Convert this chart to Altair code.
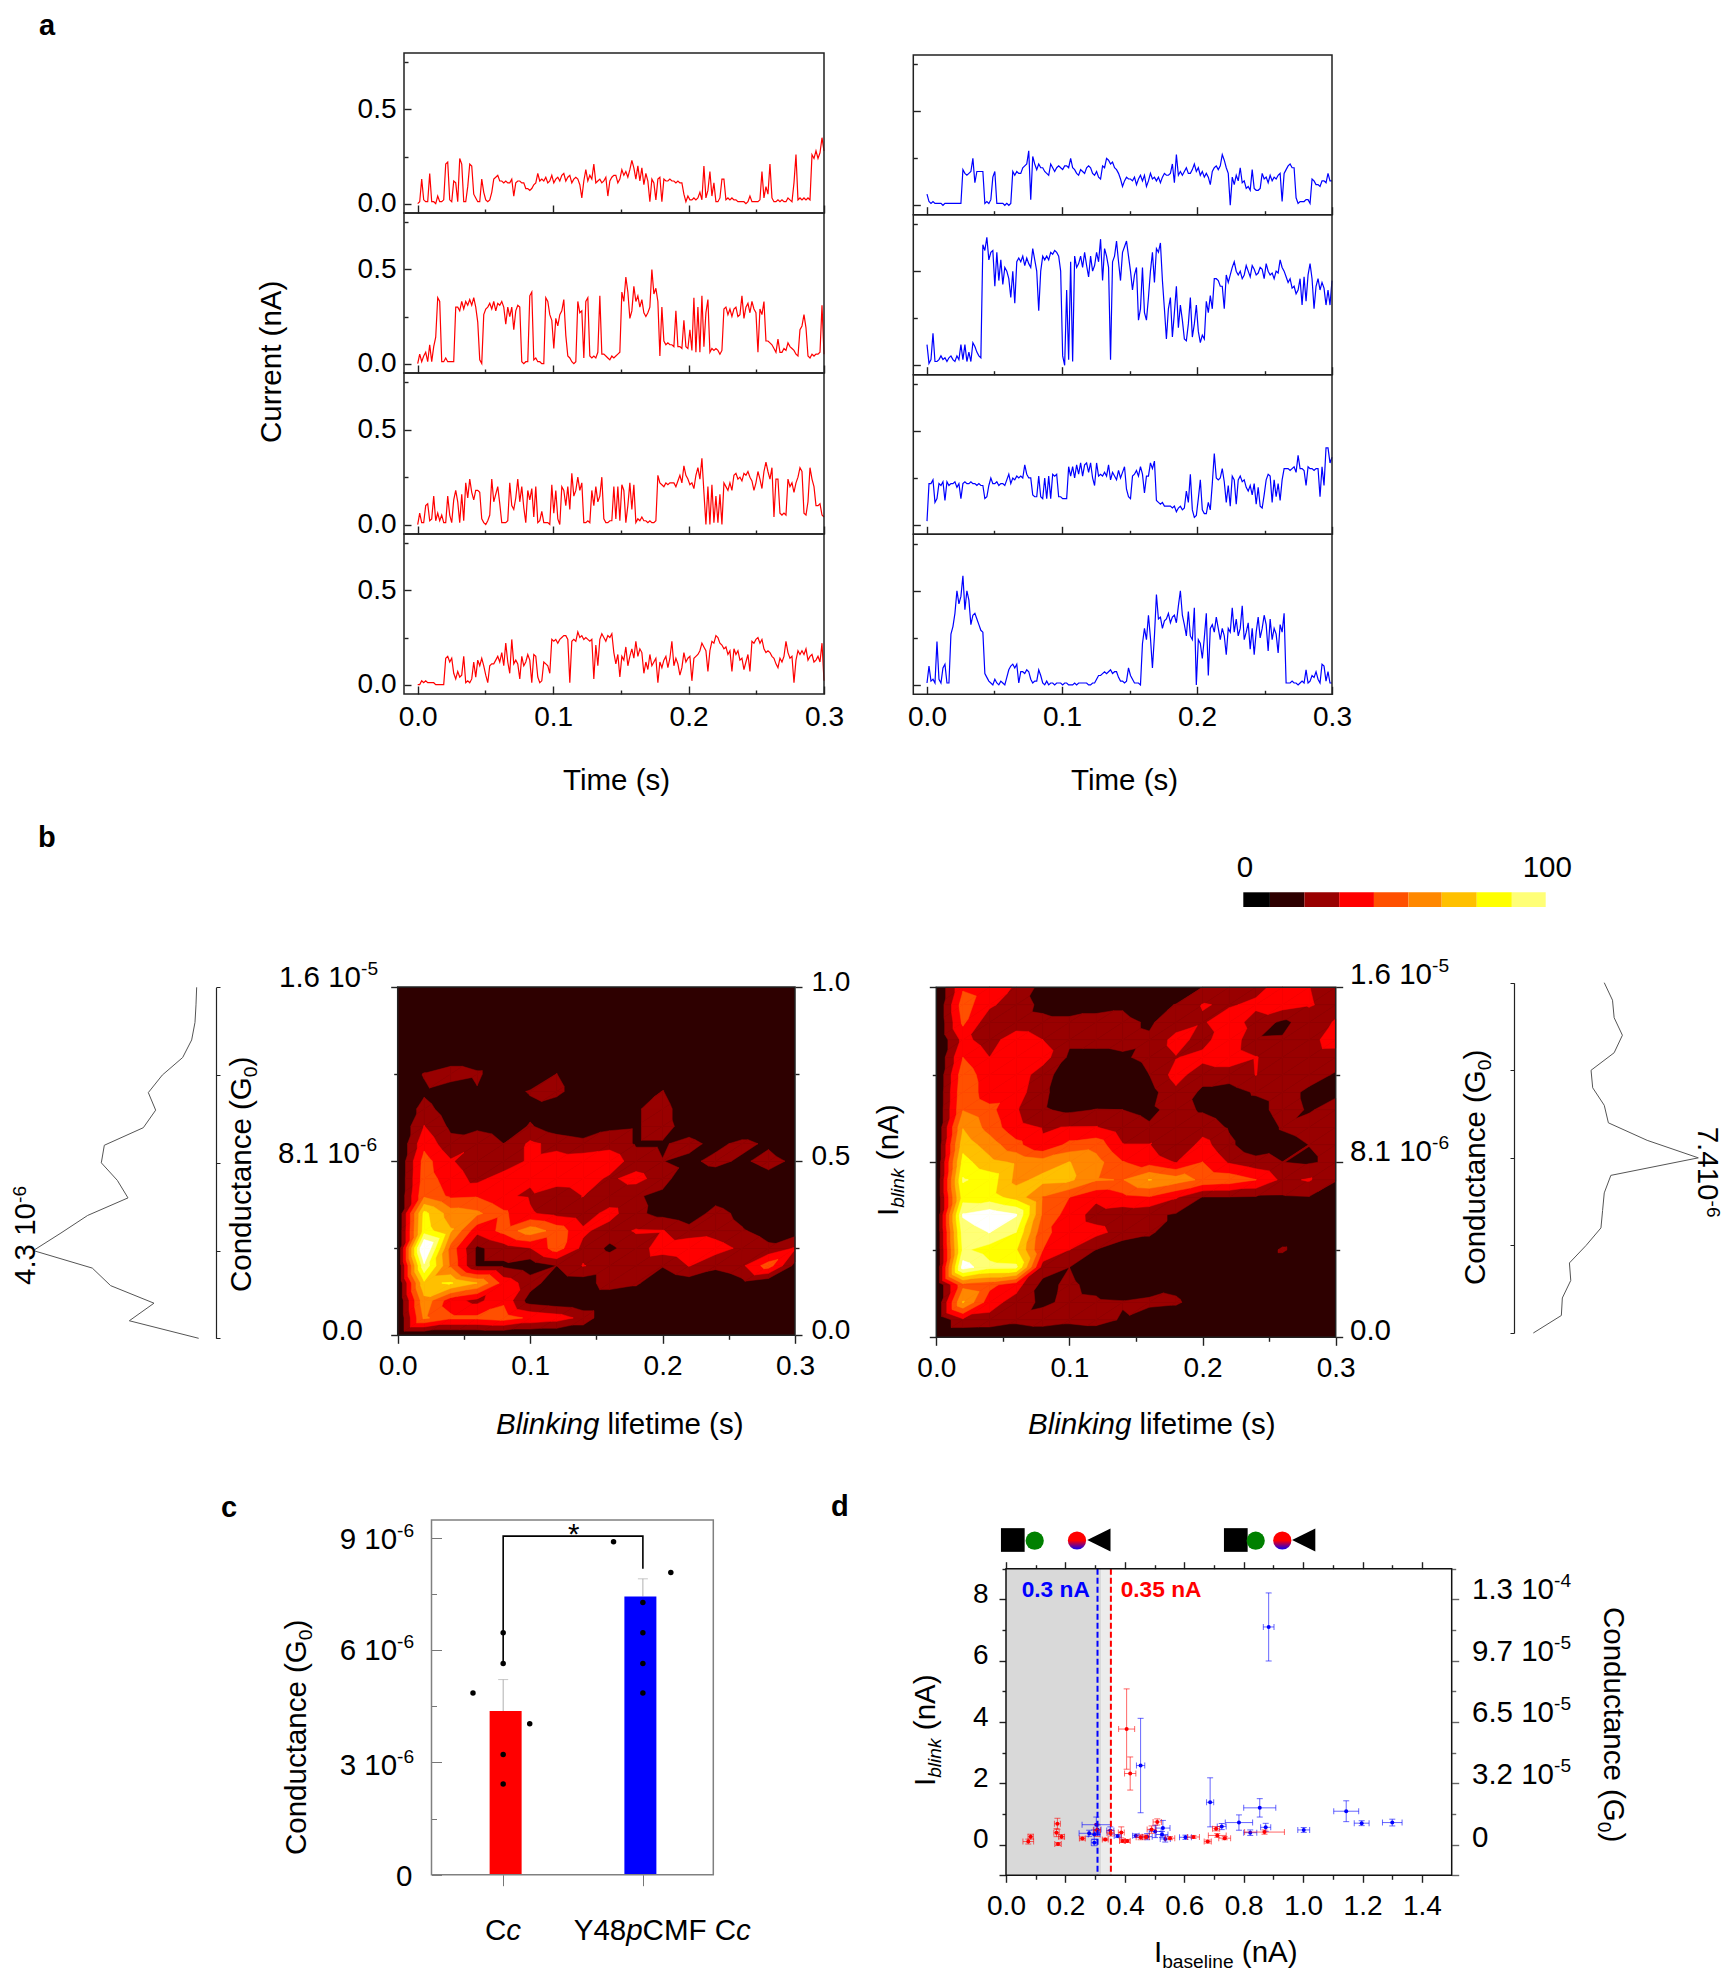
import altair as alt
import numpy as np
import pandas as pd

alt.data_transformers.disable_max_rows()
W, H = 1714, 1965
M0 = 8  # page margin: all layout numbers below are page coordinates
FONT = "Liberation Sans"
TICK = 28
RT = 29.5
TITLE = 29.5

# ---------------- panel a: current traces, unit 0.01 nA ----------------
L1 = [0,1,13,2,1,1,16,1,1,0, 4,1,1,2,21,22,2,1,12,11,
      1,24,21,1,1,9,21,20,5,3, 1,1,13,6,2,1,2,6,13,14,
      15,12,12,11,12,11,11,13,4,11, 12,12,11,11,8,8,7,8,10,11,
      16,12,13,12,14,11,12,15,11,13, 14,12,15,16,12,14,15,11,13,14,
      13,10,3,12,18,12,15,13,21,11, 12,13,11,12,14,4,12,14,15,15,
      11,13,18,15,17,14,18,23,19,13, 20,12,19,10,16,12,1,13,11,2,
      13,14,1,13,12,12,13,12,12,11, 12,11,11,5,1,4,2,2,3,2,
      3,6,2,20,3,7,17,4,11,1, 1,3,13,13,2,3,2,3,2,2,
      1,1,1,1,0,1,4,1,1,1, 1,2,17,3,9,5,21,3,1,1,
      2,1,2,1,1,3,2,1,11,26, 2,3,2,3,2,3,2,26,24,28,
      24,27,35,28]
L2 = [0,5,1,4,6,1,10,1,9,14, 35,33,1,1,3,1,1,1,1,30,
      30,28,33,29,33,31,34,31,35,30, 22,2,0,26,29,30,32,29,33,28,
      32,31,33,30,21,30,25,30,18,28, 31,30,1,0,1,1,36,38,2,3,
      1,1,0,0,35,33,26,23,8,24, 20,26,28,34,15,4,3,1,0,1,
      33,27,28,3,33,35,4,3,4,3, 6,36,5,5,4,3,2,4,3,4,
      5,6,38,33,46,38,24,28,41,33, 36,30,34,27,25,27,30,50,37,40,
      33,4,30,12,10,11,10,10,9,28, 9,9,8,23,9,8,18,7,35,6,
      30,6,36,9,27,34,6,8,7,8, 7,5,7,29,30,26,29,25,29,30,
      25,26,36,24,30,32,27,33,29,27, 6,29,26,33,12,12,11,10,8,6,
      13,6,6,8,7,11,9,8,7,5, 4,18,20,26,19,4,3,5,4,5,
      5,6,31,5]
L3 = [0,6,1,1,10,11,2,3,15,2, 6,2,5,1,1,15,5,1,13,18,
      12,1,16,2,22,14,24,17,13,18, 18,17,3,1,0,2,5,24,12,16,
      20,11,1,1,1,2,22,10,8,14, 24,12,20,9,1,18,13,19,4,20,
      1,2,7,1,1,1,0,21,6,18, 3,0,20,18,10,20,8,27,15,18,
      25,18,22,1,1,2,1,18,10,20, 12,15,25,3,1,1,2,2,20,3,
      20,2,21,18,1,10,22,8,21,1, 3,2,4,2,2,1,2,1,1,2,
      26,22,21,20,22,21,22,22,22,20, 23,26,22,31,26,24,21,22,19,26,
      30,24,35,17,0,20,0,21,1,15, 1,16,0,22,20,18,22,18,26,27,
      24,25,23,27,26,28,25,23,18,22, 28,24,19,28,33,28,24,30,4,24,
      24,6,5,6,5,24,20,22,17,22, 25,30,28,6,5,12,30,24,20,10,
      10,11,5,4]
L4 = [0,0,2,1,2,1,1,1,1,0, 0,0,0,0,14,15,12,14,6,3,
      7,4,5,15,1,2,1,3,12,4, 13,10,14,10,5,1,10,11,11,13,
      15,12,17,10,22,12,6,24,11,13, 11,3,15,10,12,16,13,1,16,15,
      4,1,2,12,11,10,6,24,23,24, 22,24,25,26,26,24,1,23,24,23,
      28,25,26,24,25,24,23,24,3,21, 10,24,27,25,23,26,25,27,17,11,
      16,4,15,13,20,10,15,19,14,23, 15,19,17,6,12,8,16,10,12,14,
      1,12,9,13,15,9,14,23,10,14, 11,5,9,17,12,14,15,2,14,15,
      16,18,22,20,18,7,18,23,22,26, 25,22,21,19,20,16,18,7,19,16,
      18,13,14,8,12,16,7,23,22,24, 25,22,24,19,17,18,17,15,14,11,
      9,14,12,15,23,17,14,15,1,13, 18,16,18,16,19,13,15,16,12,13,
      15,12,22,2]
R1 = [6,2,1,2,1,1,1,1,0,1, 1,1,1,1,1,1,1,1,19,17,
      16,17,18,25,12,18,18,18,18,1, 2,1,3,15,18,1,1,1,1,0,
      1,0,1,18,16,18,17,17,20,21, 22,29,3,26,22,19,22,20,20,18,
      17,16,22,20,18,20,21,20,19,21, 21,20,25,20,19,17,16,19,18,17,
      20,21,20,17,16,18,15,14,21,20, 25,24,22,23,20,19,17,14,10,13,
      15,14,14,13,15,11,14,16,13,16, 10,13,17,14,15,13,15,12,15,17,
      16,16,17,22,12,27,16,18,16,18, 20,17,17,19,22,18,20,16,18,15,
      17,15,11,18,20,21,19,21,27,24, 20,17,0,15,11,16,13,20,12,13,
      9,10,8,19,9,8,8,9,17,14, 15,12,16,13,15,14,16,17,2,17,
      19,21,22,20,20,4,1,2,2,2, 3,3,1,14,13,11,11,10,13,13,
      12,17,13,13]
R2 = [11,1,3,17,2,2,3,5,3,4, 2,4,5,3,2,5,3,11,3,11,
      2,7,2,12,10,7,5,4,64,61, 68,56,60,61,42,60,45,56,43,52,
      50,46,36,50,33,55,57,55,58,53, 57,54,52,62,56,50,29,50,58,56,
      58,56,60,59,61,60,58,50,5,0, 40,3,55,2,58,52,54,58,52,60,
      53,47,58,50,53,60,55,67,45,62, 58,52,3,55,58,66,55,45,60,63,
      66,58,50,40,48,52,24,30,52,28, 24,36,50,60,44,62,60,65,45,30,
      14,30,36,15,28,42,20,32,24,14, 13,22,36,15,22,32,18,12,16,14,
      34,28,37,30,46,46,45,42,42,30, 48,44,48,52,55,50,48,50,46,48,
      53,50,47,53,51,48,49,52,51,46, 54,50,48,49,46,50,49,56,52,50,
      47,44,46,41,42,38,40,46,32,47, 34,48,54,46,30,42,46,40,44,41,
      32,40,32,45]
R3 = [2,22,22,24,12,14,22,21,23,13, 23,21,22,22,23,20,22,14,22,23,
      22,22,23,22,22,21,22,21,21,14, 15,21,25,22,22,23,21,22,22,21,
      24,27,22,25,24,26,25,26,25,32, 27,25,25,16,15,15,26,15,14,25,
      14,26,14,27,26,27,15,15,14,14, 14,31,26,31,25,32,27,33,26,32,
      33,28,33,25,21,33,26,27,26,28, 26,32,24,28,26,24,29,25,28,31,
      19,15,14,26,27,29,26,31,27,17, 26,26,33,30,34,13,12,11,12,10,
      10,10,10,9,10,7,9,10,8,9, 18,12,27,8,4,5,14,24,8,6,
      6,12,8,22,38,25,24,25,30,23, 12,21,10,26,24,11,24,26,23,24,
      20,18,21,16,22,11,20,10,9,16, 24,27,26,12,24,15,22,13,24,30,
      30,30,29,30,31,28,37,30,30,29, 21,31,30,30,29,30,30,15,31,21,
      41,41,33,36]
R4 = [1,10,2,3,1,23,3,1,9,11, 1,1,27,31,38,50,43,47,58,40,
      50,45,32,37,38,35,32,29,28,6, 4,2,1,0,3,1,0,2,1,0,
      4,8,10,11,9,11,1,7,7,6, 8,7,3,1,2,2,8,5,1,0,
      2,0,1,1,0,1,1,1,0,1, 1,0,0,0,1,0,1,1,1,1,
      1,0,0,1,1,3,5,5,6,7, 6,7,8,6,7,7,4,2,2,1,
      2,9,5,3,1,1,1,0,22,30, 24,37,25,9,26,48,35,36,30,34,
      35,38,33,36,37,33,42,50,37,32, 26,39,26,24,41,0,24,22,14,25,
      38,5,30,32,28,36,30,24,30,26, 16,30,28,41,28,35,26,30,42,24,
      28,33,19,30,16,28,36,25,30,37, 32,18,35,24,30,27,17,32,28,38,
      1,1,1,2,1,1,0,1,2,1, 8,1,2,5,4,7,3,1,11,10,
      2,7,1,1]

# ---------------- panel b: contour matrices, rows from I=1.0 down to I=0 ----------------
def pad(r):
    return r + [0] * (16 - len(r))

CL = [pad(r) for r in [
 [0],[0],[0],[0],
 [0,0,0],
 [0,10.8,18,12.4,0,0,10.2],
 [0,8,0,8.8,5,11,14,0,0,0,10.5],
 [0,14,4,0,0,7,1,0,0,9,14,3],
 [0,20.3,8,7,3,11,4,1,8,9,14,5,0,0,0,0],
 [0,27,13,19,10,22,17,14,16,9,9,13,7,13,8,0],
 [0,34,21,14,13,22,24,25,27,14,10.2,7.5,13,8,14,7.5],
 [0,35,25,17,25,21,25,26,18,24,14,2,4,0,6,0],
 [0,38,28,29,21,19,14,20.2,12,11,7.5,3,5,0,0,0],
 [0,63,45,42,32,21,17,14,24,12,7,3,14,7,0,0],
 [0,65,51,23,33,46,36,22,15,21,20.5,14,16,11,6,4.6],
 [0,95,36,8,15,19.6,35,17,8,15,25,28,24,18,12,21],
 [0,78,38,8,8,4,10,20.5,16,14,11,20.5,13,18,35,6.7],
 [0,58,61,50,26,15,3,4,16,12,0,4,0,7,1,0],
 [0,47,24,17,28,5,2,0],
 [0,42,32,32,35,28,25,17,0],
 [0],
]]
CR = [pad(r) for r in [
 [0,28.6,25,19,6,0,0,0,0,0,10,15,17,24,20.2,15],
 [0,35,22,14,8,6,8,9,5,10.5,20.5,19,22,25,21,16],
 [0,32,13,13,12,12,12,12,9,14,19,25,16,8,14,21],
 [0,23,15,27,20,12,12,12,11,24,16,28,10.5,10.7,16.5,25],
 [0,30,20,28,25,8,8,9,12,19.5,23,27,20.5,15,15,14.6],
 [0,36,24,27,14,4,4,5,10,24,14,14,20.2,15,14,9],
 [0,38,24,25,12,4,4,4,6,17.5,8,6,11,14,8,8],
 [0,39.5,33,21,11,8,10.3,10,8,13,9,5,6,14,9,14],
 [0,49.5,36,23,19.4,20.3,20.5,14,11,15,15,9,3,11,14,15],
 [0,56,45,33,21,33,36,20.5,20.5,9.8,24,12,3,6,10.1,12],
 [0,64,53,48.6,45,50.3,44,30.5,26,19.5,30.2,19,14,10.1,9,12],
 [0,71,66,47,53,52,41,39.5,50.5,45,38,36,30.2,17.5,21,11],
 [0,65,64,56,39,30,22,27,29,21,9.5,9.5,9,8.8,9.5,0],
 [0,81,87,81,38,25.6,16,14,12,9,3,0],
 [0,75,80.3,70,32,26,23,16,12,3,0],
 [0,72,65,61,30,20,9.8,3,3,0,0,0,0,12,0,0],
 [0,85,73,72,15,10,3],
 [0,37,33,24,7,12,6.5,0,0,6.5,0],
 [0,51,24,16,7.5,13,12,11,14,12,3],
 [0,18,17,13,16,13,15,8.6,0],
 [0],
]]
LEVELS = [10, 20, 30, 40, 50, 60, 70, 80]
BAND = ["#990000", "#ff0000", "#ff5000", "#ff8800", "#ffc000", "#ffff00", "#ffff77", "#ffffff"]
BG = "#2e0000"

# side profiles, from G=0 upward
PROF_L = [0.8,42.4,27.6,53.6,64.6,100,83.4,67.4,43.2,49.6,59.2,57.4,34,26.6,31,22.6,10.4,5,3,2.4,2]
PROF_R = [0,17,17.6,22.7,21.9,32,41,42,43,47,100,69,45.5,43,36,35,49,54,49,48,43]

# colour bar
CB_EDGES = [0,8.8,20.2,31.7,43.2,54.6,65.6,77.2,88.8,100]
CB_COLORS = ["#000000",BG,"#990000","#ff0000","#ff5000","#ff8800","#ffc000","#ffff00","#ffff77"]

# ---------------- panel c ----------------
C_POS = [1, 2]
C_MEAN = [4.37, 7.43]
C_ERR = [5.21, 7.9]
C_COL = ["#ff0000", "#0000ff"]
C_DX = [1,1,0.784,1.19,1,1, 1.79,2.2,2,2,2,2]
C_DY = [6.46,5.64,4.85,4.03,3.21,2.42, 8.89,8.07,7.27,6.46,5.64,4.85]
BR_X = [1,1,2,2]
BR_Y = [5.64,9.04,9.04,8.17]

# ---------------- panel d: x, y, ex, ey ----------------
D_BLUE = [(.884,7.10,.018,1.11),(.453,2.58,.014,1.54),(.687,1.38,.012,.8),(.854,1.20,.054,.30),
 (1.145,1.09,.042,.34),(1.197,.70,.025,.08),(1.30,.72,.033,.11),(1.002,.48,.02,.08),(.874,.565,.017,.13),
 (.822,.39,.022,.09),(.784,.72,.046,.25),(.726,.59,.015,.1),(.604,.24,.02,.07),(.536,.185,.017,.1),
 (.525,.33,.02,.1),(.528,.54,.024,.25),(.502,.43,.02,.2),(.475,.26,.017,.1),(.437,.29,.011,.06),
 (.376,.28,.012,.05),(.351,.46,.012,.12),(.304,.65,.048,.25),(.28,.37,.034,.1),(.297,.33,.02,.15),
 (.297,.065,.01,.1),(.308,.49,.012,.15)]
D_RED = [(.406,3.77,.027,1.31),(.418,2.32,.019,.54),(.509,.74,.014,.1),(.49,.49,.015,.12),(.388,.40,.01,.18),
 (.173,.68,.01,.18),(.17,.39,.009,.13),(.187,.26,.01,.07),(.175,.02,.011,.05),(.083,.26,.009,.08),
 (.075,.1,.018,.08),(.257,.2,.01,.05),(.306,.47,.012,.2),(.334,.17,.01,.04),(.352,.38,.012,.1),
 (.392,.12,.01,.05),(.408,.12,.01,.05),(.453,.24,.015,.08),(.471,.25,.012,.06),(.552,.21,.016,.05),
 (.631,.25,.02,.05),(.679,.1,.012,.05),(.711,.30,.03,.06),(.707,.52,.012,.07),(.736,.21,.02,.05),(.87,.41,.067,.07)]

# ---------------- helpers ----------------
dummy = pd.DataFrame({"x": [0.0], "y": [0.0]})
layers = []

def V(v):
    return alt.value(v - M0)

def S(dom, rng):
    return alt.Scale(domain=dom, range=[r - M0 for r in rng], nice=False, zero=False)

def ax(xs, ys, xa=None, ya=None):
    layers.append(alt.Chart(dummy).mark_point(opacity=0).encode(
        x=alt.X("x:Q", scale=xs, axis=xa), y=alt.Y("y:Q", scale=ys, axis=ya)))

def A(orient, pos, values, size=0, labels=False, **kw):
    p = pos - M0
    off = {"left": -p, "top": -p, "right": p - W, "bottom": p - H}[orient]
    opts = dict(orient=orient, offset=off, values=values, tickSize=size, labels=labels, ticks=size > 0,
                domain=False, grid=False, title=None, tickColor="#222222", tickWidth=1.4)
    if labels:
        opts.update(labelFont=FONT, labelFontSize=TICK, labelColor="#000000", labelOverlap=False,
                    labelFlush=False, labelBound=False)
    opts.update(kw)
    return alt.Axis(**opts)

def frame(xs, ys, xd, yd, color="#222222", sw=1.5):
    d = pd.DataFrame({"a": [xd[0]], "b": [xd[1]], "c": [yd[0]], "d": [yd[1]]})
    layers.append(alt.Chart(d).mark_rect(fillOpacity=0, stroke=color, strokeWidth=sw).encode(
        x=alt.X("a:Q", scale=xs, axis=None), x2="b:Q",
        y=alt.Y("c:Q", scale=ys, axis=None), y2="d:Q"))

WID = {' ':.278,'.':.278,'-':.333,'(':.333,')':.333,'*':.389,'0':.556,'1':.556,'2':.556,'3':.556,'4':.556,'5':.556,
 '6':.556,'7':.556,'8':.556,'9':.556,'A':.667,'B':.667,'C':.722,'F':.611,'G':.778,'I':.278,'M':.833,'T':.611,'Y':.667,
 'a':.556,'b':.556,'c':.5,'d':.556,'e':.556,'f':.278,'g':.556,'i':.222,'k':.5,'l':.222,'m':.833,'n':.556,'o':.556,
 'p':.556,'r':.333,'s':.5,'t':.278,'u':.556}
texts = []

def rich(x, y, parts, size, angle=0, color="#000000", style="normal"):
    """parts: (text, style, relative size, rise in em)"""
    if isinstance(parts, str):
        parts = [(parts, style, 1, 0)]
    adv = {0: (1, 0), 270: (0, -1), 90: (0, 1)}[angle]
    up = {0: (0, -1), 270: (-1, 0), 90: (1, 0)}[angle]
    for t, st, k, rise in parts:
        s = size * k
        lead = len(t) - len(t.lstrip(" "))
        if lead:
            x += adv[0] * lead * WID[" "] * s
            y += adv[1] * lead * WID[" "] * s
            t = t.lstrip(" ")
        texts.append(dict(t=t, px=x + up[0] * rise * size - M0, py=y + up[1] * rise * size - M0, s=s, a=angle, st=st, c=color))
        w = sum(WID.get(ch, .556) for ch in t) * s
        x += adv[0] * w
        y += adv[1] * w

N, I_ = "normal", "italic"
def G0(): return [("Conductance (G", N, 1, 0), ("0", N, .65, -.2), (")", N, 1, 0)]
def P10(a, e, rise=.4): return [(a + " 10", N, 1, 0), (e, N, .65, rise)]

# ---------------- panel a ----------------
def trace_panel(vals, color, x0, x1, ytop, ybot, xtick0, labels_y, labels_x):
    t = np.arange(len(vals)) * 0.3 / (len(vals) - 1)
    df = pd.DataFrame({"t": t, "v": np.array(vals) / 100})
    xdom = [(x0 - xtick0) / (x1 - xtick0) * 0.3, 0.3]
    ydom = [-0.05, 0.8]
    xs, ys = S(xdom, [x0, x1]), S(ydom, [ybot, ytop])
    layers.append(alt.Chart(df).mark_line(color=color, strokeWidth=1.2).encode(
        x=alt.X("t:Q", scale=xs, axis=None), y=alt.Y("v:Q", scale=ys, axis=None)))
    ax(xs, ys, A("top", ybot, [0, .1, .2, .3], 8), A("right", x0, [0, .5], 7))
    ax(xs, ys, A("top", ybot, [.05, .15, .25], 4), A("right", x0, [.25, .75], 4))
    if labels_y or labels_x:
        ax(xs, ys,
           A("bottom", ybot, [0, .1, .2, .3], 0, True, format=".1f", labelPadding=9) if labels_x else None,
           A("left", x0, [0, .5], 0, True, format=".1f", labelPadding=8) if labels_y else None)
    frame(xs, ys, xdom, ydom)

rows_l = [(53, 213), (213, 373), (373, 534), (534, 694)]
rows_r = [(55, 214.7), (214.7, 374.7), (374.7, 534.3), (534.3, 694.3)]
for k, v in enumerate([L1, L2, L3, L4]):
    trace_panel(v, "#ff0000", 404, 824, rows_l[k][0], rows_l[k][1], 417.7, True, k == 3)
for k, v in enumerate([R1, R2, R3, R4]):
    trace_panel(v, "#0000ff", 913.3, 1332, rows_r[k][0], rows_r[k][1], 927, False, k == 3)
rich(280.5, 443, "Current (nA)", TITLE, 270)
rich(563, 790, "Time (s)", TITLE)
rich(1071, 790, "Time (s)", TITLE)

# ---------------- panel b ----------------
def clip(tri, L):
    out = []
    for i in range(3):
        a, b = tri[i], tri[(i + 1) % 3]
        if a[2] >= L:
            out.append(a[:2])
        if (a[2] >= L) != (b[2] >= L):
            f = (L - a[2]) / (b[2] - a[2])
            out.append((a[0] + f * (b[0] - a[0]), a[1] + f * (b[1] - a[1])))
    return out

def contour(M, xr, yr):
    xs, ys = S([0, .3], xr), S([0, 1], yr)
    d = pd.DataFrame({"a": [0], "b": [.3], "c": [0], "d": [1]})
    layers.append(alt.Chart(d).mark_rect(color=BG).encode(
        x=alt.X("a:Q", scale=xs, axis=None), x2="b:Q", y=alt.Y("c:Q", scale=ys, axis=None), y2="d:Q"))
    M = np.array(M, float)[::-1]
    for L, col in zip(LEVELS, BAND):
        rows, pid = [], 0
        for r in range(20):
            for c in range(15):
                p = [(c * .02, r * .05, M[r, c]), ((c + 1) * .02, r * .05, M[r, c + 1]),
                     ((c + 1) * .02, (r + 1) * .05, M[r + 1, c + 1]), (c * .02, (r + 1) * .05, M[r + 1, c])]
                for tri in ([p[0], p[1], p[2]], [p[0], p[2], p[3]]):
                    poly = clip(tri, L)
                    if len(poly) >= 3:
                        for i, q in enumerate(poly):
                            rows.append((q[0], q[1], pid, i))
                        pid += 1
        if rows:
            df = pd.DataFrame(rows, columns=["x", "y", "p", "i"])
            layers.append(alt.Chart(df).mark_line(fill=col, stroke=col, strokeWidth=0.5, interpolate="linear-closed").encode(
                x=alt.X("x:Q", scale=xs, axis=None), y=alt.Y("y:Q", scale=ys, axis=None),
                detail="p:N", order="i:Q"))
    return xs, ys

xsL, ysL = contour(CL, [397.7, 795], [1335.3, 987])
ax(xsL, ysL, A("bottom", 1335.3, [0, .1, .2, .3], 8, True, format=".1f", labelPadding=9), A("left", 397.7, [0, .5, 1], 7))
ax(xsL, ysL, A("bottom", 1335.3, [.05, .15, .25], 4), A("left", 397.7, [.25, .75], 4))
ax(xsL, ysL, None, A("right", 795, [0, .5, 1], 7, True, format=".1f", labelPadding=9, labelOffset=-5))
ax(xsL, ysL, None, A("right", 795, [.25, .75], 4))
frame(xsL, ysL, [0, .3], [0, 1])

xsR, ysR = contour(CR, [936.3, 1335.7], [1337.3, 987.3])
ax(xsR, ysR, A("bottom", 1337.3, [0, .1, .2, .3], 8, True, format=".1f", labelPadding=9), A("left", 936.3, [0, .5, 1], 7))
ax(xsR, ysR, A("bottom", 1337.3, [.05, .15, .25], 4), A("left", 936.3, [.25, .75], 4))
ax(xsR, ysR, None, A("right", 1335.7, [0, .5, 1], 7))
ax(xsR, ysR, None, A("right", 1335.7, [.25, .75], 4))
frame(xsR, ysR, [0, .3], [0, 1])

rich(279, 986.7, P10("1.6", "-5"), RT)
rich(278, 1162.7, P10("8.1", "-6"), RT)
rich(322, 1340, "0.0", RT)
rich(1350, 984, P10("1.6", "-5"), RT)
rich(1350, 1161, P10("8.1", "-6"), RT)
rich(1350, 1340, "0.0", RT)
BL = [("Blinking", I_, 1, 0), (" lifetime (s)", N, 1, 0)]
rich(496, 1434, BL, TITLE)
rich(1028, 1434, BL, TITLE)
rich(250.7, 1292, G0(), TITLE, 270)
rich(1485, 1285, G0(), TITLE, 270)
rich(898, 1216, [("I", N, 1, 0), ("blink", I_, .65, -.2), (" (nA)", N, 1, 0)], TITLE, 270)
rich(35, 1285, P10("4.3", "-6", .3), RT, 270)
rich(1698, 1126.7, [("7.410", N, 1, 0), ("-6", N, .65, .3)], RT, 90)

profL_y = np.arange(21) * 0.08
df = pd.DataFrame({"v": PROF_L, "g": profL_y})
xs, ys = S([0, 100], [200, 33.3]), S([0, 1.6], [1338.3, 987.3])
layers.append(alt.Chart(df).mark_line(color="#555555", strokeWidth=1).encode(
    x=alt.X("v:Q", scale=xs, axis=None), y=alt.Y("g:Q", scale=ys, axis=None), order="g:Q"))
ax(xs, ys, None, A("right", 216, [0, .4, .8, 1.2, 1.6], 4, domain=True, domainColor="#222222", domainWidth=1.2, tickWidth=1))
df = pd.DataFrame({"v": PROF_R, "g": profL_y})
xs, ys = S([0, 100], [1533.3, 1698.3]), S([0, 1.6], [1333, 982.7])
layers.append(alt.Chart(df).mark_line(color="#555555", strokeWidth=1).encode(
    x=alt.X("v:Q", scale=xs, axis=None), y=alt.Y("g:Q", scale=ys, axis=None), order="g:Q"))
ax(xs, ys, None, A("left", 1514, [0, .4, .8, 1.2, 1.6], 4, domain=True, domainColor="#222222", domainWidth=1.2, tickWidth=1))

cb = pd.DataFrame({"a": CB_EDGES[:-1], "b": CB_EDGES[1:], "c": CB_COLORS})
layers.append(alt.Chart(cb).mark_rect().encode(
    x=alt.X("a:Q", scale=S([0, 100], [1243.3, 1545.7]), axis=None), x2="b:Q",
    y=V(892.3), y2=V(907), color=alt.Color("c:N", scale=None, legend=None)))
rich(1236.7, 876.7, "0", RT)
rich(1522.7, 876.7, "100", RT)

# ---------------- panel c ----------------
CXD = [.487, 2.504]
CYD = [0, 9.47]
xs, ys = S(CXD, [431.5, 713.3]), S(CYD, [1874.7, 1520])
bars = pd.DataFrame({"x": C_POS, "m": C_MEAN, "e": C_ERR, "c": C_COL})
layers.append(alt.Chart(bars).mark_rule(color="#b0b0b0", strokeWidth=1).encode(
    x=alt.X("x:Q", scale=xs, axis=None), y=alt.Y("m:Q", scale=ys, axis=None), y2="e:Q"))
layers.append(alt.Chart(bars).mark_tick(color="#b0b0b0", orient="horizontal", size=10, thickness=1).encode(
    x=alt.X("x:Q", scale=xs, axis=None), y=alt.Y("e:Q", scale=ys, axis=None)))
layers.append(alt.Chart(bars).mark_bar(size=32).encode(
    x=alt.X("x:Q", scale=xs, axis=None), y=alt.Y("m:Q", scale=ys, axis=None),
    y2=alt.Y2(datum=0), color=alt.Color("c:N", scale=None, legend=None)))
br = pd.DataFrame({"x": BR_X, "y": BR_Y, "i": range(4)})
layers.append(alt.Chart(br).mark_line(color="#000000", strokeWidth=1.6).encode(
    x=alt.X("x:Q", scale=xs, axis=None), y=alt.Y("y:Q", scale=ys, axis=None), order="i:Q"))
layers.append(alt.Chart(pd.DataFrame({"x": C_DX, "y": C_DY})).mark_circle(size=30, color="#000000", opacity=1).encode(
    x=alt.X("x:Q", scale=xs, axis=None), y=alt.Y("y:Q", scale=ys, axis=None)))
ax(xs, ys, A("bottom", 1874.7, [1, 2], 11, tickColor="#777777", tickWidth=1), A("right", 431.5, [0, 3, 6, 9], 10, tickColor="#777777", tickWidth=1))
ax(xs, ys, None, A("right", 431.5, [1.5, 4.5, 7.5], 5, tickColor="#777777", tickWidth=1))
frame(xs, ys, CXD, CYD, "#808080", 1.5)
for lab, y in [("9", 1549), ("6", 1660), ("3", 1775)]:
    rich(339.7, y, P10(lab, "-6"), RT)
rich(396, 1886, "0", RT)
rich(306, 1855, G0(), 29.5, 270)
rich(485, 1940, [("C", N, 1, 0), ("c", I_, 1, 0)], RT)
rich(573.7, 1940, [("Y48", N, 1, 0), ("p", I_, 1, 0), ("CMF C", N, 1, 0), ("c", I_, 1, 0)], RT)
rich(568, 1544, "*", RT)

# ---------------- panel d ----------------
xs, ys = S([0, 1.5], [1006, 1451.7]), S([-1, 9], [1875.3, 1568.7])
band = pd.DataFrame({"a": [0, .32], "b": [.32, .355], "c": ["#d9d9d9", "#ececec"]})
layers.append(alt.Chart(band).mark_rect().encode(
    x=alt.X("a:Q", scale=xs, axis=None), x2="b:Q",
    y=alt.Y("l:Q", scale=ys, axis=None), y2="h:Q", color=alt.Color("c:N", scale=None, legend=None)
).transform_calculate(l="-1", h="9"))
def series(data, col):
    d = pd.DataFrame(data, columns=["x", "y", "ex", "ey"])
    d["x0"], d["x1"], d["y0"], d["y1"] = d.x - d.ex, d.x + d.ex, d.y - d.ey, d.y + d.ey
    X = lambda f: alt.X(f, scale=xs, axis=None)
    Y = lambda f: alt.Y(f, scale=ys, axis=None)
    c = alt.Chart(d)
    layers.append(c.mark_rule(color=col, strokeWidth=1, opacity=.6).encode(x=X("x0:Q"), x2="x1:Q", y=Y("y:Q")))
    layers.append(c.mark_rule(color=col, strokeWidth=1, opacity=.6).encode(x=X("x:Q"), y=Y("y0:Q"), y2="y1:Q"))
    for f in ["x0:Q", "x1:Q"]:
        layers.append(c.mark_tick(color=col, orient="vertical", size=6, thickness=1, opacity=.6).encode(x=X(f), y=Y("y:Q")))
    for f in ["y0:Q", "y1:Q"]:
        layers.append(c.mark_tick(color=col, orient="horizontal", size=6, thickness=1, opacity=.6).encode(x=X("x:Q"), y=Y(f)))
    layers.append(c.mark_circle(color=col, size=16, opacity=1).encode(x=X("x:Q"), y=Y("y:Q")))
series(D_BLUE, "#0000ff")
series(D_RED, "#ff0000")
for val, col in [(.308, "#0000ff"), (.353, "#ff0000")]:
    layers.append(alt.Chart(pd.DataFrame({"x": [val]})).mark_rule(color=col, strokeWidth=2, strokeDash=[6, 3]).encode(
        x=alt.X("x:Q", scale=xs, axis=None), y=V(1568.7), y2=V(1875.3)))
ME = [round(.2 * i, 1) for i in range(8)]
MI = [round(.1 + .2 * i, 1) for i in range(7)]
ax(xs, ys, A("bottom", 1875.3, ME, 7, True, format=".1f", labelPadding=10), A("left", 1006, [-1, 0, 2, 4, 6, 8], 7))
ax(xs, ys, A("bottom", 1875.3, MI, 4), A("left", 1006, [1, 3, 5, 7, 9], 4))
ax(xs, ys, A("top", 1568.7, ME, 7), A("right", 1451.7, [-1, 0, 2, 4, 6, 8], 7, tickColor="#666666"))
ax(xs, ys, A("top", 1568.7, MI, 4), A("right", 1451.7, [1, 3, 5, 7, 9], 4, tickColor="#666666"))
ax(xs, ys, None, A("left", 1006, [0, 2, 4, 6, 8], 0, True, format="d", labelPadding=18, labelOffset=-5))
frame(xs, ys, [0, 1.5], [-1, 9], "#111111", 1.5)
rich(1021.7, 1597, "0.3 nA", 22.7, 0, "#0000ff", "bold")
rich(1120.7, 1597, "0.35 nA", 22.7, 0, "#ff0000", "bold")
for a, e, y in [("1.3", "-4", 1599), ("9.7", "-5", 1661), ("6.5", "-5", 1722), ("3.2", "-5", 1784)]:
    rich(1472, y, P10(a, e), RT)
rich(1472, 1847, "0", RT)
rich(935, 1786, [("I", N, 1, 0), ("blink", I_, .65, -.2), (" (nA)", N, 1, 0)], TITLE, 270)
rich(1154, 1962, [("I", N, 1, 0), ("baseline", N, .65, -.2), (" (nA)", N, 1, 0)], TITLE)
rich(1604, 1607, G0(), TITLE, 90)

# state icons above panel d
one = pd.DataFrame({"a": [0]})
TRI = "M -1 0 L 1 -1 L 1 1 Z"
grad = alt.LinearGradient(gradient="linear", x1=0, x2=0, y1=0, y2=1,
                          stops=[alt.GradientStop(color="#ff0000", offset=0), alt.GradientStop(color="#ff0000", offset=.5),
                                 alt.GradientStop(color="#2000e0", offset=.95)])
for px in (1012.8, 1235.8):
    layers.append(alt.Chart(one).mark_point(shape="square", filled=True, size=562, color="#000000", opacity=1).encode(x=V(px), y=V(1540)))
for px in (1034.7, 1255.7):
    layers.append(alt.Chart(one).mark_point(shape="circle", filled=True, size=333, color="#008000", opacity=1).encode(x=V(px), y=V(1540.7)))
for px in (1098.9, 1303.7):
    layers.append(alt.Chart(one).mark_point(shape=TRI, filled=True, size=540, color="#000000", opacity=1).encode(x=V(px), y=V(1540)))
for px in (1077, 1282.3):
    layers.append(alt.Chart(one).mark_point(shape="circle", filled=True, size=333, fill=grad, opacity=1).encode(x=V(px), y=V(1540.5)))

# panel letters
rich(39, 35, "a", 29, 0, "#000000", "bold")
rich(38, 847, "b", 29, 0, "#000000", "bold")
rich(221, 1517, "c", 29, 0, "#000000", "bold")
rich(831, 1516, "d", 29, 0, "#000000", "bold")

T = pd.DataFrame(texts)
for st, g in T.groupby("st"):
    kw = {"fontWeight": "bold"} if st == "bold" else ({"fontStyle": "italic"} if st == "italic" else {})
    layers.append(alt.Chart(g).mark_text(align="left", baseline="alphabetic", font=FONT, **kw).encode(
        x=alt.X("px:Q", scale=None, axis=None), y=alt.Y("py:Q", scale=None, axis=None), text="t:N",
        angle=alt.Angle("a:Q", scale=None), size=alt.Size("s:Q", scale=None, legend=None),
        color=alt.Color("c:N", scale=None, legend=None)))

chart = alt.layer(*layers).resolve_scale(x="independent", y="independent", color="independent", size="independent", angle="independent").properties(
    width=W, height=H, padding=0,
    autosize=alt.AutoSizeParams(type="none")
).configure(font=FONT, background="white").configure_view(stroke=None)
chart.save("out.html", embed_options={"renderer": "svg", "actions": False})
